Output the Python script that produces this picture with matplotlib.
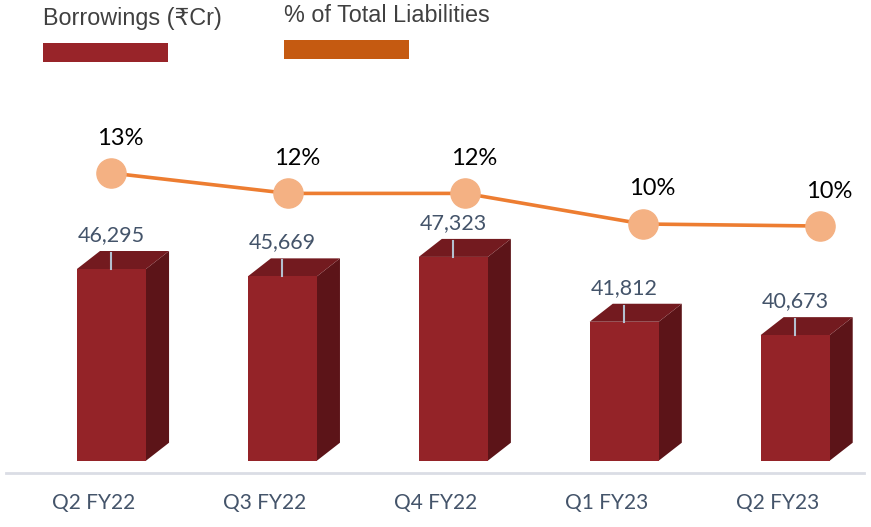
import matplotlib
matplotlib.use("Agg")
import matplotlib.pyplot as plt
from matplotlib.patches import Polygon, Rectangle

# data
quarters = ["Q2 FY22", "Q3 FY22", "Q4 FY22", "Q1 FY23", "Q2 FY23"]
borrowings = [46295, 45669, 47323, 41812, 40673]
pct_liab = [12.6, 11.6, 11.6, 10.1, 10.0]
pct_labels = ["13%", "12%", "12%", "10%", "10%"]

W, H = 871, 527
fig = plt.figure(figsize=(W / 100, H / 100), dpi=100)
fig.patch.set_facecolor("white")

# pixel box for the plot area
ax_left, ax_right, ax_top, ax_bot = 6, 864, 100, 473
pos = [ax_left / W, 1 - ax_bot / H, (ax_right - ax_left) / W, (ax_bot - ax_top) / H]

front_c = "#942328"
top_c = "#731a1f"
side_c = "#5c1418"
label_c = "#44546A"
base = 30000
bw = 0.404      # front width
ddx = 0.135     # depth in x
ddy = 1530      # depth in y

ax = fig.add_axes(pos)
ax.set_xlim(-0.617, 4.403)
ax.set_ylim(28955, 60660)
for s in ["top", "left", "right"]:
    ax.spines[s].set_visible(False)
ax.spines["bottom"].set_color("#DADDE5")
ax.spines["bottom"].set_linewidth(2)
ax.set_yticks([])
ax.set_xticks([i - 0.105 for i in range(len(quarters))])
ax.set_xticklabels(quarters, fontsize=15, color=label_c, family="Lato")
ax.tick_params(axis="x", length=0, pad=14.5)

for i, v in enumerate(borrowings):
    x0, x1 = i - bw / 2, i + bw / 2
    side = Polygon([(x1, base), (x1 + ddx, base + ddy), (x1 + ddx, v + ddy), (x1, v)],
                   closed=True, facecolor=side_c, edgecolor="none")
    top = Polygon([(x0, v), (x1, v), (x1 + ddx, v + ddy), (x0 + ddx, v + ddy)],
                  closed=True, facecolor=top_c, edgecolor="none")
    ax.add_patch(side)
    ax.add_patch(top)
    ax.bar(i, v - base, bottom=base, width=bw, color=front_c, zorder=2)
    # leader line
    ax.plot([i, i], [v, v + 1360], color="#B4C0D0", lw=1.5, zorder=3)
    ax.annotate(f"{v:,}", (i, v), xytext=(0, 34), textcoords="offset pixels",
                ha="center", va="center", fontsize=15.5, color=label_c, family="Lato")

# line on its own overlay axes
ax2 = fig.add_axes(pos)
ax2.patch.set_alpha(0)
ax2.set_xlim(-0.592, 4.248)
ax2.set_ylim(-2.11, 16.18)
ax2.axis("off")
xs = list(range(len(pct_liab)))
ax2.plot(xs, pct_liab, color="#ED7D31", lw=2.6, marker="o", markersize=21,
         markerfacecolor="#F4B183", markeredgecolor="#F4B183")
for x, p, lab in zip(xs, pct_liab, pct_labels):
    ax2.annotate(lab, (x, p), xytext=(9, 35), textcoords="offset pixels",
                 ha="center", va="center", fontsize=17, color="black", family="Lato")

# legend at top
fam = ["Liberation Sans", "DejaVu Sans"]
fig.text(43 / W, 1 - 18 / H, "Borrowings (₹Cr)", fontsize=16.8, color="#404040",
         family=fam, ha="left", va="center")
fig.text(284 / W, 1 - 16 / H, "% of Total Liabilities", fontsize=16.8, color="#404040",
         family=fam, ha="left", va="center")
fig.patches.append(Rectangle((43 / W, 1 - 62 / H), 125 / W, 19 / H,
                             transform=fig.transFigure, facecolor="#982429", edgecolor="none"))
fig.patches.append(Rectangle((284 / W, 1 - 59 / H), 125 / W, 19 / H,
                             transform=fig.transFigure, facecolor="#C55A11", edgecolor="none"))

fig.savefig("out.png", dpi=100)
